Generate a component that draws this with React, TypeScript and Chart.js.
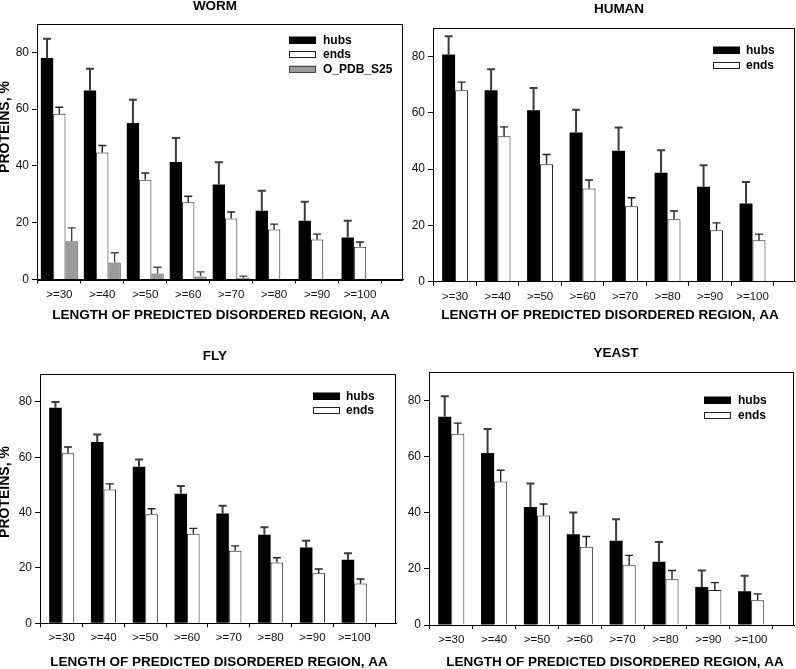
import React, { useEffect, useRef } from "react";
import { Chart, registerables } from "chart.js";

Chart.register(...registerables);

const FONT = "'Liberation Sans', Arial, Helvetica, sans-serif";
Chart.defaults.font.family = FONT;
Chart.defaults.color = "#111";

// ---------- data ----------
const categories = [">=30", ">=40", ">=50", ">=60", ">=70", ">=80", ">=90", ">=100"];
const yTicks = [0, 20, 40, 60, 80];
const xTitle = "LENGTH OF PREDICTED DISORDERED REGION, AA";
const yTitle = "PROTEINS, %";

const wormHubs = [78.0, 66.6, 55.1, 41.4, 33.5, 24.2, 20.7, 14.8];
const wormHubsErr = [6.8, 7.6, 8.2, 8.4, 7.8, 7.1, 6.7, 5.9];
const wormEnds = [58.4, 44.7, 35.1, 27.2, 21.5, 17.6, 14.1, 11.5];
const wormEndsErr = [2.3, 2.5, 2.4, 2.1, 2.3, 1.9, 1.9, 1.7];
const wormPdb = [13.5, 6.0, 2.1, 1.1, 0.5, 0.3, 0.3, 0];
const wormPdbErr = [4.7, 3.4, 2.2, 1.6, 0.7, 0, 0, 0];

const humanHubs = [80.7, 68.0, 60.9, 53.0, 46.5, 38.7, 33.7, 27.8];
const humanHubsErr = [6.5, 7.5, 7.9, 8.1, 8.3, 8.0, 7.7, 7.6];
const humanEnds = [68.0, 51.7, 41.7, 33.1, 26.8, 22.2, 18.3, 14.7];
const humanEndsErr = [2.9, 3.3, 3.5, 3.0, 3.0, 2.9, 2.6, 2.2];

const flyHubs = [77.9, 65.5, 56.6, 46.8, 39.7, 32.0, 27.4, 23.0];
const flyHubsErr = [2.1, 2.7, 2.6, 2.8, 2.8, 2.7, 2.4, 2.3];
const flyEnds = [61.5, 48.4, 39.4, 32.4, 26.2, 22.0, 18.1, 14.4];
const flyEndsErr = [2.2, 2.0, 2.0, 1.9, 1.8, 1.7, 1.5, 1.6];

const yeastHubs = [74.2, 61.3, 42.0, 32.3, 30.0, 22.5, 13.5, 12.0];
const yeastHubsErr = [7.3, 8.5, 8.4, 7.8, 7.7, 7.1, 5.9, 5.5];
const yeastEnds = [68.1, 51.1, 39.0, 27.9, 21.3, 16.3, 12.5, 8.8];
const yeastEndsErr = [3.8, 4.0, 4.1, 3.6, 3.5, 3.1, 2.6, 2.3];

// ---------- styles ----------
type Series = {
  label: string;
  values: number[];
  errors: number[];
  fill: string;
  border: string;
  borderWidth: number;
  errColor: string;
  errWidth: number;
};

const hubsStyle = { label: "hubs", fill: "#000000", border: "#000000", borderWidth: 0, errColor: "#3c3c3c", errWidth: 2 };
const endsStyle = { label: "ends", fill: "#ffffff", border: "#222222", borderWidth: 1, errColor: "#222222", errWidth: 1.4 };
const pdbStyle = { label: "O_PDB_S25", fill: "#9a9a9a", border: "#444444", borderWidth: 1, errColor: "#444444", errWidth: 1.4 };

type Spec = {
  title: string;
  canvas: { left: number; top: number; w: number; h: number };
  area: { l: number; t: number; r: number; b: number };
  titlePos: [number, number];
  xTitlePos: [number, number];
  yTitlePos: [number, number] | null;
  legend: { boxX: number; textX: number; ys: number[] };
  groupFrac: number;
  series: Series[];
};

const X_MIN = -0.52;
const X_MAX = 8.0;
const X_AXIS_H = 30;

const specs: Spec[] = [
  {
    title: "WORM",
    canvas: { left: 0, top: 0, w: 412, h: 330 },
    area: { l: 37, t: 24, r: 403, b: 279.5 },
    titlePos: [215, 6],
    xTitlePos: [221, 315],
    yTitlePos: [5.5, 127],
    legend: { boxX: 289, textX: 323, ys: [40, 54.5, 69] },
    groupFrac: 0.86,
    series: [
      { ...hubsStyle, values: wormHubs, errors: wormHubsErr },
      { ...endsStyle, values: wormEnds, errors: wormEndsErr },
      { ...pdbStyle, values: wormPdb, errors: wormPdbErr },
    ],
  },
  {
    title: "HUMAN",
    canvas: { left: 400, top: 0, w: 396, h: 330 },
    area: { l: 433, t: 28.3, r: 795, b: 281.7 },
    titlePos: [619, 9],
    xTitlePos: [610, 315],
    yTitlePos: null,
    legend: { boxX: 713, textX: 746, ys: [50, 65] },
    groupFrac: 0.61,
    series: [
      { ...hubsStyle, values: humanHubs, errors: humanHubsErr },
      { ...endsStyle, values: humanEnds, errors: humanEndsErr },
    ],
  },
  {
    title: "FLY",
    canvas: { left: 0, top: 330, w: 412, h: 339 },
    area: { l: 40, t: 374.3, r: 396, b: 623.3 },
    titlePos: [215, 356],
    xTitlePos: [219, 662],
    yTitlePos: [5, 492],
    legend: { boxX: 313, textX: 346, ys: [396, 410] },
    groupFrac: 0.6,
    series: [
      { ...hubsStyle, values: flyHubs, errors: flyHubsErr },
      { ...endsStyle, values: flyEnds, errors: flyEndsErr },
    ],
  },
  {
    title: "YEAST",
    canvas: { left: 400, top: 330, w: 396, h: 339 },
    area: { l: 429, t: 372.3, r: 794, b: 625 },
    titlePos: [616, 353],
    xTitlePos: [615, 662],
    yTitlePos: null,
    legend: { boxX: 704, textX: 738, ys: [400, 415] },
    groupFrac: 0.61,
    series: [
      { ...hubsStyle, values: yeastHubs, errors: yeastHubsErr },
      { ...endsStyle, values: yeastEnds, errors: yeastEndsErr },
    ],
  },
];

// ---------- plugins ----------
const errorBarPlugin = {
  id: "errorBars",
  afterDatasetsDraw(chart: any) {
    const ctx = chart.ctx;
    const yScale = chart.scales.y;
    chart.data.datasets.forEach((ds: any, di: number) => {
      const meta = chart.getDatasetMeta(di);
      const errs: number[] = ds.errors || [];
      meta.data.forEach((el: any, j: number) => {
        const e = errs[j];
        if (!e) return;
        const v = ds.data[j].y;
        const y0 = yScale.getPixelForValue(v);
        const y1 = yScale.getPixelForValue(v + e);
        ctx.save();
        ctx.strokeStyle = ds.errColor;
        ctx.lineWidth = ds.errWidth;
        ctx.beginPath();
        ctx.moveTo(el.x, y0);
        ctx.lineTo(el.x, y1);
        ctx.moveTo(el.x - 4, y1);
        ctx.lineTo(el.x + 4, y1);
        ctx.stroke();
        ctx.restore();
      });
    });
  },
};

function decorPlugin(spec: Spec) {
  const ox = spec.canvas.left;
  const oy = spec.canvas.top;
  return {
    id: "decor",
    afterDraw(chart: any) {
      const ctx = chart.ctx;
      const a = chart.chartArea;
      ctx.save();
      // frame
      ctx.strokeStyle = "#000";
      ctx.lineWidth = 1;
      ctx.strokeRect(Math.round(a.left) + 0.5, Math.round(a.top) + 0.5, Math.round(a.right - a.left) - 1, Math.round(a.bottom - a.top));
      ctx.fillStyle = "#000";
      ctx.textAlign = "center";
      ctx.textBaseline = "middle";
      // panel title
      ctx.font = `bold 13.5px ${FONT}`;
      ctx.fillText(spec.title, spec.titlePos[0] - ox, spec.titlePos[1] - oy);
      // x title
      ctx.font = `bold 13.5px ${FONT}`;
      ctx.fillText(xTitle, spec.xTitlePos[0] - ox, spec.xTitlePos[1] - oy);
      // y title
      if (spec.yTitlePos) {
        ctx.save();
        ctx.translate(spec.yTitlePos[0] - ox, spec.yTitlePos[1] - oy);
        ctx.rotate(-Math.PI / 2);
        ctx.font = `bold 14px ${FONT}`;
        ctx.fillText(yTitle, 0, 0);
        ctx.restore();
      }
      // legend
      ctx.textAlign = "left";
      ctx.font = `bold 12px ${FONT}`;
      spec.series.forEach((s, i) => {
        const y = spec.legend.ys[i] - oy;
        const bx = spec.legend.boxX - ox;
        ctx.fillStyle = s.fill;
        ctx.fillRect(bx, y - 3.5, 27, 7);
        ctx.strokeStyle = s.border;
        ctx.lineWidth = 1;
        ctx.strokeRect(bx + 0.5, Math.round(y - 3.5) + 0.5, 26, 6);
        ctx.fillStyle = "#000";
        ctx.fillText(s.label, spec.legend.textX - ox, y + 0.5);
      });
      ctx.restore();
    },
  };
}

// ---------- panel ----------
function Panel({ spec }: { spec: Spec }) {
  const ref = useRef<HTMLCanvasElement>(null);
  useEffect(() => {
    const canvas = ref.current!;
    const { canvas: c, area } = spec;
    const chart = new Chart(canvas, {
      type: "bar",
      data: {
        datasets: spec.series.map((s) => ({
          label: s.label,
          data: s.values.map((v, i) => ({ x: i, y: v })),
          backgroundColor: s.fill,
          borderColor: s.border,
          borderWidth: s.borderWidth,
          borderSkipped: "start",
          categoryPercentage: spec.groupFrac,
          barPercentage: 1,
          errors: s.errors,
          errColor: s.errColor,
          errWidth: s.errWidth,
        })) as any,
      },
      options: {
        responsive: false,
        maintainAspectRatio: false,
        animation: false,
        events: [],
        layout: {
          padding: {
            left: 0,
            top: area.t - c.top,
            right: c.left + c.w - area.r,
            bottom: c.top + c.h - area.b - X_AXIS_H,
          },
        },
        plugins: {
          legend: { display: false },
          tooltip: { enabled: false },
          title: { display: false },
        },
        scales: {
          x: {
            type: "linear",
            min: X_MIN,
            max: X_MAX,
            offset: false,
            afterBuildTicks: (s: any) => {
              s.ticks = categories.map((_, i) => ({ value: i }));
            },
            afterFit: (s: any) => {
              s.height = X_AXIS_H;
            },
            ticks: {
              autoSkip: false,
              maxRotation: 0,
              minRotation: 0,
              padding: 4,
              color: "#111",
              font: { size: 11.5 },
              callback: (v: any) => categories[v] ?? "",
            },
            grid: { drawOnChartArea: false, drawTicks: true, tickLength: 4, color: "#000" },
            border: { display: true, color: "#000", width: 1 },
          },
          y: {
            type: "linear",
            min: 0,
            max: 90,
            afterBuildTicks: (s: any) => {
              s.ticks = yTicks.map((v) => ({ value: v }));
            },
            afterFit: (s: any) => {
              s.width = area.l - c.left;
            },
            ticks: { padding: 3, color: "#111", font: { size: 12 } },
            grid: { drawOnChartArea: false, drawTicks: true, tickLength: 5, color: "#000" },
            border: { display: true, color: "#000", width: 1 },
          },
        },
      } as any,
      plugins: [errorBarPlugin, decorPlugin(spec)],
    });
    return () => chart.destroy();
  }, [spec]);
  return (
    <canvas
      ref={ref}
      width={spec.canvas.w}
      height={spec.canvas.h}
      style={{
        position: "absolute",
        left: spec.canvas.left,
        top: spec.canvas.top,
        width: spec.canvas.w,
        height: spec.canvas.h,
      }}
    />
  );
}

export default function App() {
  return (
    <div style={{ position: "absolute", left: 0, top: 0, width: 796, height: 669, background: "#fff" }}>
      {specs.map((s) => (
        <Panel key={s.title} spec={s} />
      ))}
    </div>
  );
}
